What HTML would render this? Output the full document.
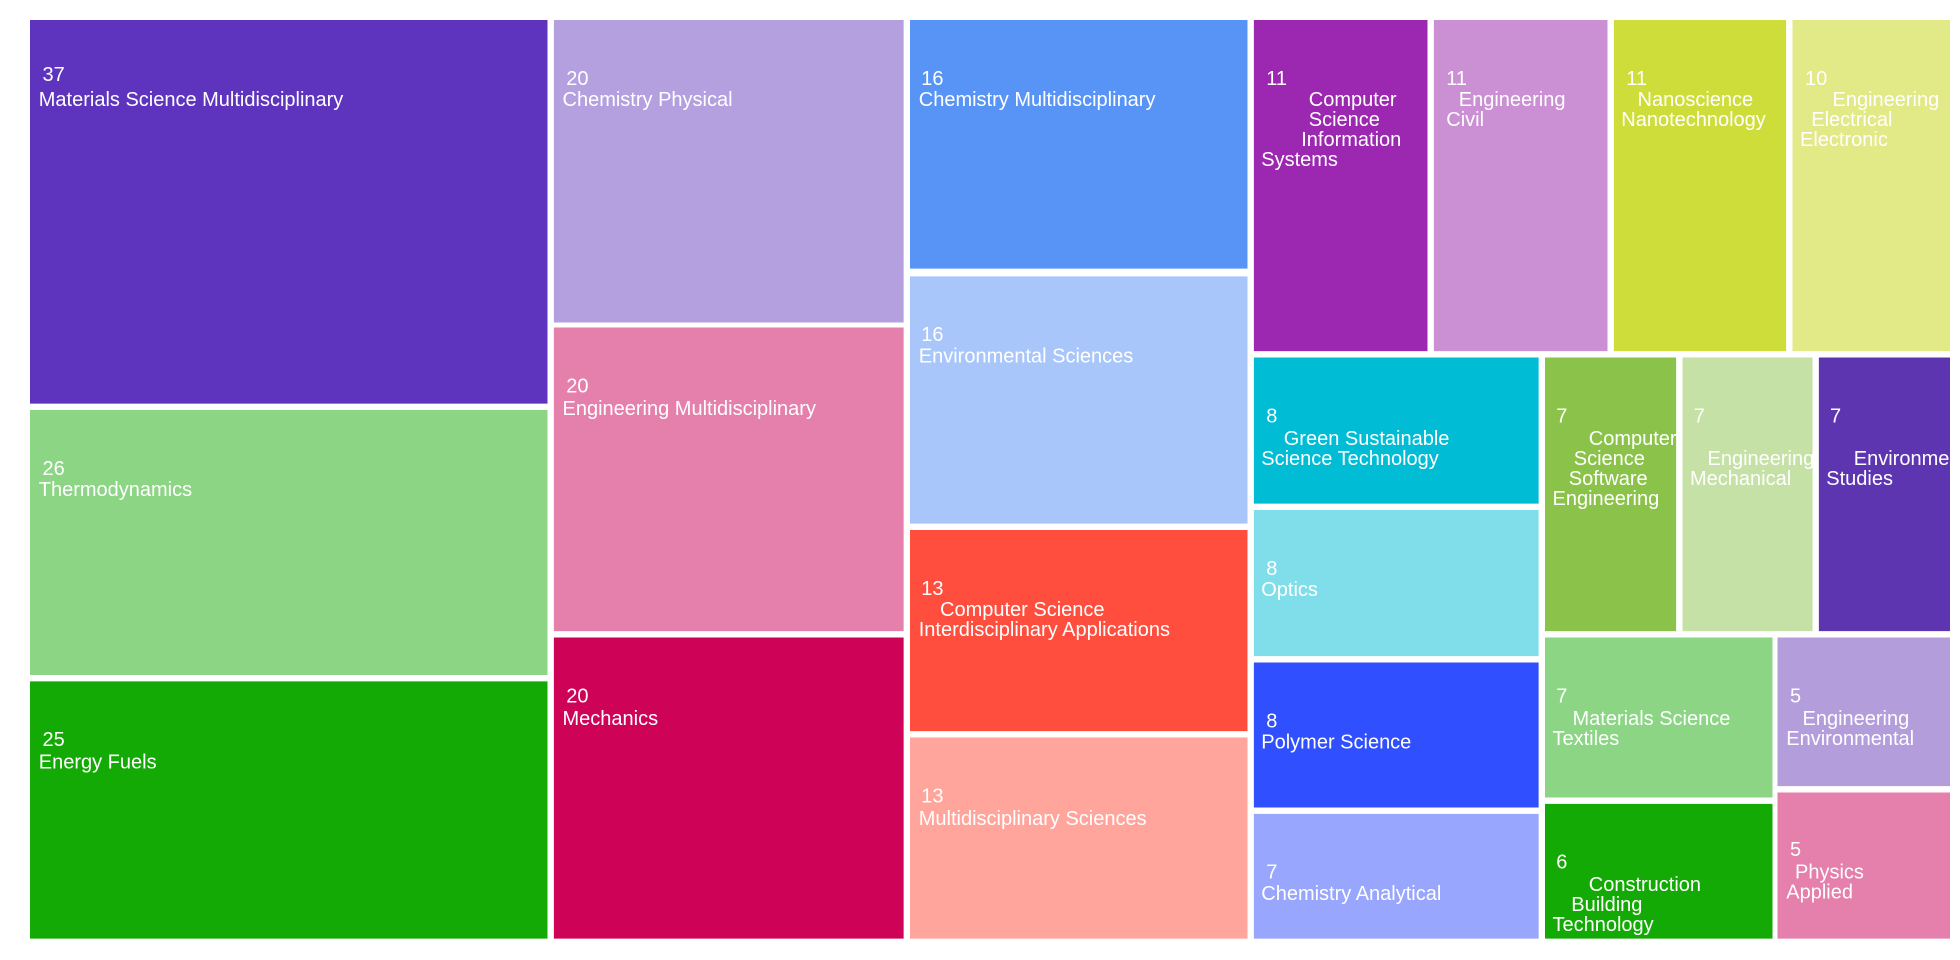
<!DOCTYPE html>
<html><head><meta charset="utf-8"><style>
html,body{margin:0;padding:0;background:#fff;width:1960px;height:960px;overflow:hidden}
text{font-family:"Liberation Sans",Arial,sans-serif;font-size:16px;fill:#fff;dominant-baseline:central}
</style></head><body>
<svg width="1960" height="960" viewBox="0 0 1568 768" xmlns="http://www.w3.org/2000/svg">
<svg x="24" y="16" width="414" height="307"><rect width="100%" height="100%" fill="#5e33be"/><text x="10" y="44">37</text><text x="7" y="64">Materials Science Multidisciplinary</text></svg>
<svg x="24" y="328" width="414" height="212"><rect width="100%" height="100%" fill="#8bd584"/><text x="10" y="47">26</text><text x="7" y="64">Thermodynamics</text></svg>
<svg x="24" y="545" width="414" height="206"><rect width="100%" height="100%" fill="#14aa05"/><text x="10" y="47">25</text><text x="7" y="65">Energy Fuels</text></svg>
<svg x="443" y="16" width="280" height="242"><rect width="100%" height="100%" fill="#b49fdf"/><text x="10" y="47">20</text><text x="7" y="64">Chemistry Physical</text></svg>
<svg x="443" y="262" width="280" height="243"><rect width="100%" height="100%" fill="#e57fab"/><text x="10" y="47">20</text><text x="7" y="65">Engineering Multidisciplinary</text></svg>
<svg x="443" y="510" width="280" height="241"><rect width="100%" height="100%" fill="#ce0257"/><text x="10" y="47">20</text><text x="7" y="65">Mechanics</text></svg>
<svg x="728" y="16" width="270" height="199"><rect width="100%" height="100%" fill="#5894f5"/><text x="9" y="47">16</text><text x="7" y="64">Chemistry Multidisciplinary</text></svg>
<svg x="728" y="221" width="270" height="198"><rect width="100%" height="100%" fill="#a9c6fa"/><text x="9" y="47">16</text><text x="7" y="64">Environmental Sciences</text></svg>
<svg x="728" y="424" width="270" height="161"><rect width="100%" height="100%" fill="#ff4d3e"/><text x="9" y="47">13</text><text x="24" y="64">Computer Science</text><text x="7" y="80">Interdisciplinary Applications</text></svg>
<svg x="728" y="590" width="270" height="161"><rect width="100%" height="100%" fill="#ffa59c"/><text x="9" y="47">13</text><text x="7" y="65">Multidisciplinary Sciences</text></svg>
<svg x="1003" y="16" width="139" height="265"><rect width="100%" height="100%" fill="#9c27b0"/><text x="10" y="47">11</text><text x="44" y="64">Computer</text><text x="44" y="80">Science</text><text x="38" y="96">Information</text><text x="6" y="112">Systems</text></svg>
<svg x="1147" y="16" width="139" height="265"><rect width="100%" height="100%" fill="#cb90d4"/><text x="10" y="47">11</text><text x="20" y="64">Engineering</text><text x="10" y="80">Civil</text></svg>
<svg x="1291" y="16" width="138" height="265"><rect width="100%" height="100%" fill="#cedd3a"/><text x="10" y="47">11</text><text x="19" y="64">Nanoscience</text><text x="6" y="80">Nanotechnology</text></svg>
<svg x="1434" y="16" width="126" height="265"><rect width="100%" height="100%" fill="#e2e987"/><text x="10" y="47">10</text><text x="32" y="64">Engineering</text><text x="15" y="80">Electrical</text><text x="6" y="96">Electronic</text></svg>
<svg x="1003" y="286" width="228" height="117"><rect width="100%" height="100%" fill="#00bcd4"/><text x="10" y="47">8</text><text x="24" y="65">Green Sustainable</text><text x="6" y="81">Science Technology</text></svg>
<svg x="1003" y="408" width="228" height="117"><rect width="100%" height="100%" fill="#80deea"/><text x="10" y="47">8</text><text x="6" y="64">Optics</text></svg>
<svg x="1003" y="530" width="228" height="116"><rect width="100%" height="100%" fill="#304ffe"/><text x="10" y="47">8</text><text x="6" y="64">Polymer Science</text></svg>
<svg x="1003" y="651" width="228" height="100"><rect width="100%" height="100%" fill="#98a6fd"/><text x="10" y="47">7</text><text x="6" y="64">Chemistry Analytical</text></svg>
<svg x="1236" y="286" width="105" height="219"><rect width="100%" height="100%" fill="#8bc34a"/><text x="9" y="47">7</text><text x="35" y="65">Computer</text><text x="23" y="81">Science</text><text x="19" y="97">Software</text><text x="6" y="113">Engineering</text></svg>
<svg x="1346" y="286" width="104" height="219"><rect width="100%" height="100%" fill="#c5e1a5"/><text x="9" y="47">7</text><text x="20" y="81">Engineering</text><text x="6" y="97">Mechanical</text></svg>
<svg x="1455" y="286" width="105" height="219"><rect width="100%" height="100%" fill="#5e35b1"/><text x="9" y="47">7</text><text x="28" y="81">Environmental</text><text x="6" y="97">Studies</text></svg>
<svg x="1236" y="510" width="182" height="128"><rect width="100%" height="100%" fill="#8bd584"/><text x="9" y="47">7</text><text x="22" y="65">Materials Science</text><text x="6" y="81">Textiles</text></svg>
<svg x="1236" y="643" width="182" height="108"><rect width="100%" height="100%" fill="#14aa05"/><text x="9" y="47">6</text><text x="35" y="65">Construction</text><text x="21" y="81">Building</text><text x="6" y="97">Technology</text></svg>
<svg x="1422" y="510" width="138" height="119"><rect width="100%" height="100%" fill="#b39ddb"/><text x="10" y="47">5</text><text x="20" y="65">Engineering</text><text x="7" y="81">Environmental</text></svg>
<svg x="1422" y="634" width="138" height="117"><rect width="100%" height="100%" fill="#e57fab"/><text x="10" y="46">5</text><text x="14" y="64">Physics</text><text x="7" y="80">Applied</text></svg>
</svg>
</body></html>
